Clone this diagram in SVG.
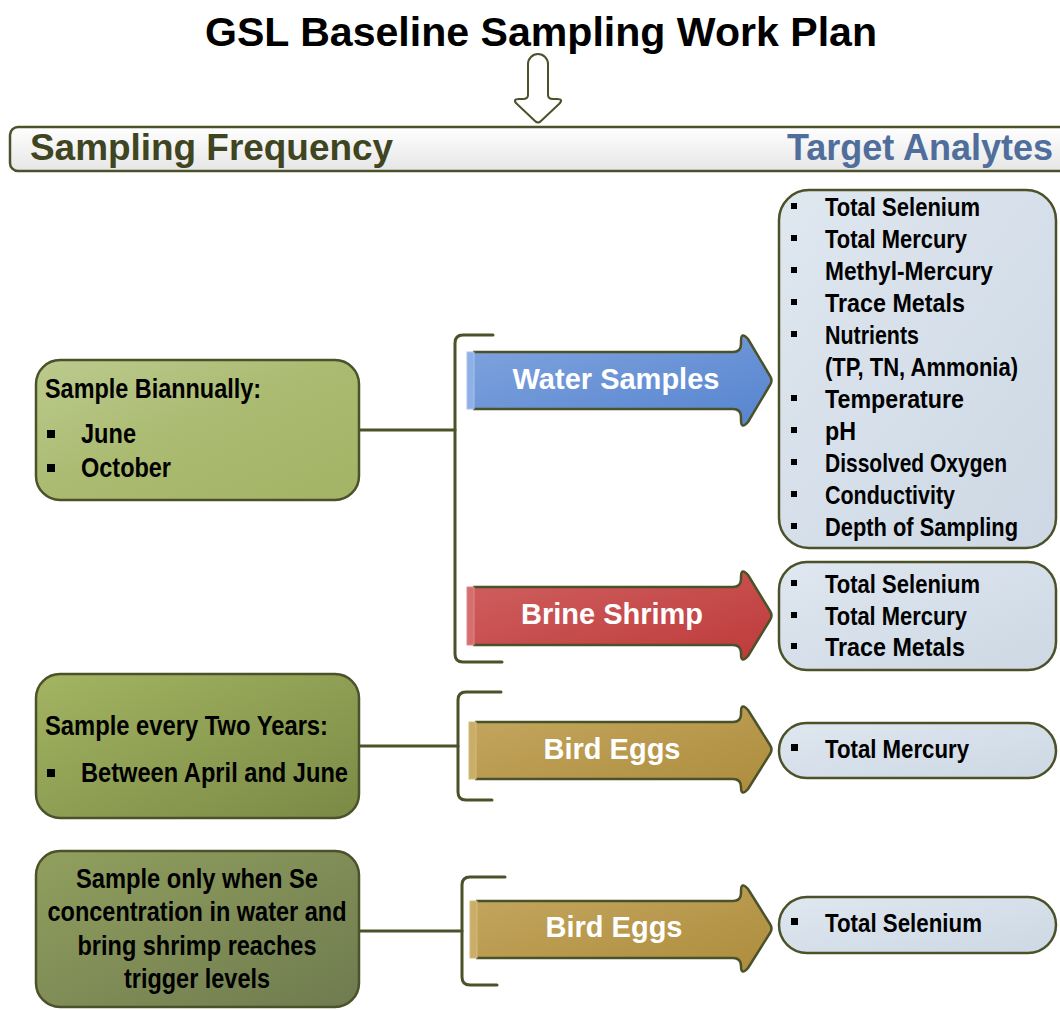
<svg xmlns="http://www.w3.org/2000/svg" width="1060" height="1010" viewBox="0 0 1060 1010">
  <defs>
    <linearGradient id="gHeader" x1="0" y1="0" x2="0" y2="1">
      <stop offset="0" stop-color="#ffffff"/>
      <stop offset="1" stop-color="#e6e6e6"/>
    </linearGradient>
    <linearGradient id="gGreen1" x1="0" y1="0" x2="1" y2="1">
      <stop offset="0" stop-color="#bccb8e"/>
      <stop offset="0.5" stop-color="#aaba70"/>
      <stop offset="1" stop-color="#a3b466"/>
    </linearGradient>
    <linearGradient id="gGreen2" x1="0" y1="0" x2="1" y2="1">
      <stop offset="0" stop-color="#a3b462"/>
      <stop offset="1" stop-color="#7a8a45"/>
    </linearGradient>
    <linearGradient id="gGreen3" x1="0" y1="0" x2="1" y2="1">
      <stop offset="0" stop-color="#919f5e"/>
      <stop offset="1" stop-color="#6f7b4f"/>
    </linearGradient>
    <linearGradient id="gBlue" x1="0" y1="0" x2="1" y2="1">
      <stop offset="0" stop-color="#80a4de"/>
      <stop offset="1" stop-color="#5684cf"/>
    </linearGradient>
    <linearGradient id="gRed" x1="0" y1="0" x2="1" y2="1">
      <stop offset="0" stop-color="#d06060"/>
      <stop offset="1" stop-color="#be3a3a"/>
    </linearGradient>
    <linearGradient id="gGold" x1="0" y1="0" x2="1" y2="1">
      <stop offset="0" stop-color="#c4a760"/>
      <stop offset="1" stop-color="#ad8c3c"/>
    </linearGradient>
    <linearGradient id="gList" x1="0" y1="0" x2="1" y2="1">
      <stop offset="0" stop-color="#dfe7ef"/>
      <stop offset="1" stop-color="#cdd8e4"/>
    </linearGradient>
  </defs>
  <style>
    .title { font-family: "Liberation Sans", Arial, sans-serif; font-weight: bold; font-size: 41px; fill: #000; }
    .hdr { font-family: "Liberation Sans", Arial, sans-serif; font-weight: bold; font-size: 36px; }
    .box { stroke: #4b5229; stroke-width: 2.5; }
    .line { fill: none; stroke: #4b5229; stroke-width: 3; stroke-linecap: round; stroke-linejoin: round; }
    .arrow { stroke: #4b5229; stroke-width: 2.5; stroke-linejoin: round; }
    .lbl { font-family: "Liberation Sans", Arial, sans-serif; font-weight: bold; font-size: 29px; fill: #fff; text-anchor: middle; }
    .freq { font-family: "Liberation Sans", Arial, sans-serif; font-weight: bold; font-size: 27px; fill: #000; }
    .item { font-family: "Liberation Sans", Arial, sans-serif; font-weight: bold; font-size: 25px; fill: #000; }
    .dot { fill: #000; }
  </style>

  <!-- Title -->
  <text class="title" x="541" y="46" text-anchor="middle" textLength="672" lengthAdjust="spacingAndGlyphs">GSL Baseline Sampling Work Plan</text>

  <!-- Column header bar -->
  <g id="header">
    <rect class="box" x="10" y="127" width="1064" height="44" rx="8" fill="url(#gHeader)"/>
    <text class="hdr" x="30" y="160" fill="#3f4521" textLength="363" lengthAdjust="spacingAndGlyphs">Sampling Frequency</text>
    <text class="hdr" x="1053" y="160" fill="#4f6e9b" text-anchor="end">Target Analytes</text>
  </g>

  <!-- Connectors -->
  <g id="connectors">
    <path d="M528 95 V64 A10 10 0 0 1 548 64 V95 Q548 99 553 99 H557 Q564 99 559 104 L541 121 Q538 124 535 121 L517 104 Q512 99 519 99 H523 Q528 99 528 95 Z" fill="#fff" stroke="#4b5229" stroke-width="2" stroke-linejoin="round"/>
    <line class="line" x1="359" y1="430" x2="455" y2="430"/>
    <path class="line" d="M493 335 H463 Q455 335 455 343 V654 Q455 662 463 662 H502"/>
    <line class="line" x1="359" y1="746" x2="458" y2="746"/>
    <path class="line" d="M501 692 H466 Q458 692 458 700 V792 Q458 800 466 800 H492"/>
    <line class="line" x1="359" y1="931" x2="462" y2="931"/>
    <path class="line" d="M505 877 H470 Q462 877 462 885 V977 Q462 985 470 985 H497"/>
  </g>

  <!-- Frequency boxes -->
  <g id="freq-biannual">
    <rect class="box" x="36" y="360" width="323" height="140" rx="24" fill="url(#gGreen1)"/>
    <text class="freq" x="45" y="398" textLength="216" lengthAdjust="spacingAndGlyphs">Sample Biannually:</text>
    <rect class="dot" x="47" y="430" width="8" height="8"/>
    <text class="freq" x="81" y="443" textLength="55" lengthAdjust="spacingAndGlyphs">June</text>
    <rect class="dot" x="47" y="464" width="8" height="8"/>
    <text class="freq" x="81" y="477" textLength="90" lengthAdjust="spacingAndGlyphs">October</text>
  </g>

  <g id="freq-two-years">
    <rect class="box" x="36" y="674" width="323" height="144" rx="24" fill="url(#gGreen2)"/>
    <text class="freq" x="45" y="735" textLength="283" lengthAdjust="spacingAndGlyphs">Sample every Two Years:</text>
    <rect class="dot" x="47" y="769" width="8" height="8"/>
    <text class="freq" x="81" y="782" textLength="267" lengthAdjust="spacingAndGlyphs">Between April and June</text>
  </g>

  <g id="freq-trigger">
    <rect class="box" x="36" y="851" width="323" height="156" rx="24" fill="url(#gGreen3)"/>
    <text class="freq" x="197" y="888" text-anchor="middle" textLength="242" lengthAdjust="spacingAndGlyphs">Sample only when Se</text>
    <text class="freq" x="197" y="921" text-anchor="middle" textLength="299" lengthAdjust="spacingAndGlyphs">concentration in water and</text>
    <text class="freq" x="197" y="955" text-anchor="middle" textLength="239" lengthAdjust="spacingAndGlyphs">bring shrimp reaches</text>
    <text class="freq" x="197" y="988" text-anchor="middle" textLength="146" lengthAdjust="spacingAndGlyphs">trigger levels</text>
  </g>

  <!-- Sample type arrows -->
  <g id="arrow-water">
    <path class="arrow" fill="url(#gBlue)" d="M473 352 H733 Q741 352 741 344 V341 Q741 331 748 339 L770 376 Q773 380.5 770 385 L748 422 Q741 430 741 420 V417 Q741 409 733 409 H473"/>
    <rect x="467" y="352" width="7" height="57" fill="#8fb0e6" stroke="#a9c2ec" stroke-width="1"/>
    <text class="lbl" x="616" y="389">Water Samples</text>
  </g>

  <g id="arrow-shrimp">
    <path class="arrow" fill="url(#gRed)" d="M473 587 H733 Q741 587 741 579 V577 Q741 567 748 575 L770 611 Q773 615.5 770 620 L748 656 Q741 664 741 654 V653 Q741 645 733 645 H473"/>
    <rect x="467" y="587" width="7" height="58" fill="#d66e6e" stroke="#df8a8a" stroke-width="1"/>
    <text class="lbl" x="612" y="624">Brine Shrimp</text>
  </g>

  <g id="arrow-eggs-hg">
    <path class="arrow" fill="url(#gGold)" d="M475 722 H733 Q741 722 741 714 V712 Q741 702 748 710 L770 745 Q773 749.5 770 754 L748 789 Q741 797 741 787 V787 Q741 779 733 779 H475"/>
    <rect x="469" y="722" width="7" height="57" fill="#c9ad68" stroke="#d4bc80" stroke-width="1"/>
    <text class="lbl" x="612" y="759">Bird Eggs</text>
  </g>

  <g id="arrow-eggs-se">
    <path class="arrow" fill="url(#gGold)" d="M476 901 H733 Q741 901 741 893 V891 Q741 881 748 889 L770 924 Q773 928.5 770 933 L748 968 Q741 976 741 966 V966 Q741 958 733 958 H476"/>
    <rect x="470" y="901" width="7" height="57" fill="#c9ad68" stroke="#d4bc80" stroke-width="1"/>
    <text class="lbl" x="614" y="937">Bird Eggs</text>
  </g>

  <!-- Analyte lists -->
  <g id="analytes-water">
    <rect class="box" x="779" y="190" width="277" height="358" rx="30" fill="url(#gList)"/>
    <rect class="dot" x="791" y="203" width="6" height="6"/>
    <text class="item" x="825" y="216" textLength="155" lengthAdjust="spacingAndGlyphs">Total Selenium</text>
    <rect class="dot" x="791" y="235" width="6" height="6"/>
    <text class="item" x="825" y="248" textLength="142" lengthAdjust="spacingAndGlyphs">Total Mercury</text>
    <rect class="dot" x="791" y="267" width="6" height="6"/>
    <text class="item" x="825" y="280" textLength="168" lengthAdjust="spacingAndGlyphs">Methyl-Mercury</text>
    <rect class="dot" x="791" y="299" width="6" height="6"/>
    <text class="item" x="825" y="312" textLength="140" lengthAdjust="spacingAndGlyphs">Trace Metals</text>
    <rect class="dot" x="791" y="331" width="6" height="6"/>
    <text class="item" x="825" y="344" textLength="94" lengthAdjust="spacingAndGlyphs">Nutrients</text>
    <text class="item" x="825" y="376" textLength="193" lengthAdjust="spacingAndGlyphs">(TP, TN, Ammonia)</text>
    <rect class="dot" x="791" y="395" width="6" height="6"/>
    <text class="item" x="825" y="408" textLength="139" lengthAdjust="spacingAndGlyphs">Temperature</text>
    <rect class="dot" x="791" y="427" width="6" height="6"/>
    <text class="item" x="825" y="440" textLength="31" lengthAdjust="spacingAndGlyphs">pH</text>
    <rect class="dot" x="791" y="459" width="6" height="6"/>
    <text class="item" x="825" y="472" textLength="182" lengthAdjust="spacingAndGlyphs">Dissolved Oxygen</text>
    <rect class="dot" x="791" y="491" width="6" height="6"/>
    <text class="item" x="825" y="504" textLength="130" lengthAdjust="spacingAndGlyphs">Conductivity</text>
    <rect class="dot" x="791" y="523" width="6" height="6"/>
    <text class="item" x="825" y="536" textLength="193" lengthAdjust="spacingAndGlyphs">Depth of Sampling</text>
  </g>

  <g id="analytes-shrimp">
    <rect class="box" x="779" y="562" width="277" height="108" rx="28" fill="url(#gList)"/>
    <rect class="dot" x="791" y="580" width="6" height="6"/>
    <text class="item" x="825" y="593" textLength="155" lengthAdjust="spacingAndGlyphs">Total Selenium</text>
    <rect class="dot" x="791" y="612" width="6" height="6"/>
    <text class="item" x="825" y="625" textLength="142" lengthAdjust="spacingAndGlyphs">Total Mercury</text>
    <rect class="dot" x="791" y="643" width="6" height="6"/>
    <text class="item" x="825" y="656" textLength="140" lengthAdjust="spacingAndGlyphs">Trace Metals</text>
  </g>

  <g id="analytes-eggs-hg">
    <rect class="box" x="779" y="723" width="277" height="55" rx="27.5" fill="url(#gList)"/>
    <rect class="dot" x="791" y="744" width="7" height="7"/>
    <text class="item" x="825" y="758" textLength="144" lengthAdjust="spacingAndGlyphs">Total Mercury</text>
  </g>

  <g id="analytes-eggs-se">
    <rect class="box" x="779" y="897" width="277" height="56" rx="28" fill="url(#gList)"/>
    <rect class="dot" x="791" y="918" width="7" height="7"/>
    <text class="item" x="825" y="932" textLength="157" lengthAdjust="spacingAndGlyphs">Total Selenium</text>
  </g>
</svg>
